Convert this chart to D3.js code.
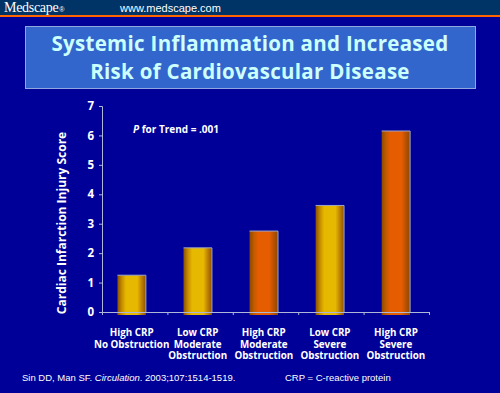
<!DOCTYPE html>
<html>
<head>
<meta charset="utf-8">
<script src="https://cdn.jsdelivr.net/npm/d3@7"></script>
<style>
  body { margin: 0; background: #000099; }
  svg { display: block; }
</style>
</head>
<body>
<svg id="chart"></svg>
<script>
// chart data
const categories = [
    ["High CRP", "No Obstruction"],
    ["Low CRP", "Moderate", "Obstruction"],
    ["High CRP", "Moderate", "Obstruction"],
    ["Low CRP", "Severe", "Obstruction"],
    ["High CRP", "Severe", "Obstruction"]
];
const scores = [1.25, 2.18, 2.75, 3.62, 6.15];
const barColour = ["yellow", "yellow", "orange", "yellow", "orange"];
const yTicks = [0, 1, 2, 3, 4, 5, 6, 7];

const width = 500, height = 393;
const margin = {top: 106, right: 71, bottom: 81, left: 102};

const svg = d3.select("#chart")
    .attr("width", width)
    .attr("height", height);

svg.append("rect").attr("width", width).attr("height", height).attr("fill", "#000099");

// header strip
svg.append("rect").attr("width", width).attr("height", 15).attr("fill", "#003366");
svg.append("rect").attr("y", 15).attr("width", width).attr("height", 2).attr("fill", "#FF6600");
const brand = svg.append("text")
    .attr("x", 4).attr("y", 12)
    .attr("font-family", "Liberation Serif, serif")
    .attr("font-size", 14)
    .attr("letter-spacing", -0.3)
    .attr("fill", "#fff");
brand.append("tspan").text("Medscape");
brand.append("tspan")
    .attr("font-family", "Liberation Sans, Arial, sans-serif")
    .attr("font-size", 7)
    .attr("dx", 1)
    .text("®");
svg.append("text")
    .attr("x", 120).attr("y", 12)
    .attr("font-family", "Liberation Sans, Arial, sans-serif")
    .attr("font-size", 11)
    .attr("fill", "#fff")
    .text("www.medscape.com");

// title box
svg.append("rect")
    .attr("x", 25.5).attr("y", 26.5)
    .attr("width", 450).attr("height", 62)
    .attr("fill", "#3366CC")
    .attr("stroke", "#8FA8E0")
    .attr("stroke-width", 1);
const title = svg.append("text")
    .attr("text-anchor", "middle")
    .attr("font-family", "Open Sans, DejaVu Sans, sans-serif")
    .attr("font-weight", "bold")
    .attr("font-size", 20.5)
    .attr("letter-spacing", 0.3)
    .attr("fill", "#CCFFFF");
title.append("tspan").attr("x", 250).attr("y", 51).text("Systemic Inflammation and Increased");
title.append("tspan").attr("x", 250).attr("y", 79).text("Risk of Cardiovascular Disease");

// gradients for cylinder-ish bars
const defs = svg.append("defs");
const gradColors = {
    yellow: ["#8A5200", "#C58A00", "#E6B800", "#E6B800", "#C08000", "#8A5200"],
    orange: ["#8A4A00", "#C05A00", "#E65C00", "#E65C00", "#B85000", "#8A4A00"]
};
Object.keys(gradColors).forEach(k => {
    const g = defs.append("linearGradient").attr("id", "grad-" + k)
        .attr("x1", "0%").attr("x2", "100%").attr("y1", "0%").attr("y2", "0%");
    const stops = [0, 0.15, 0.3, 0.7, 0.85, 1];
    gradColors[k].forEach((c, i) => g.append("stop").attr("offset", stops[i]).attr("stop-color", c));
});

const chart = svg.append("g")
    .attr("transform", `translate(${margin.left},${margin.top})`);
const innerW = width - margin.left - margin.right;
const innerH = height - margin.top - margin.bottom;

const xScale = d3.scaleBand()
    .domain(d3.range(categories.length))
    .range([0, innerW])
    .paddingInner(0.57)
    .paddingOuter(0.26)
    .align(0.45);
const yScale = d3.scaleLinear()
    .domain([0, 7])
    .range([innerH, 0]);

// bars
chart.selectAll("rect.bar")
    .data(scores)
    .join("rect")
    .attr("class", "bar")
    .attr("x", (d, i) => xScale(i))
    .attr("y", d => yScale(d))
    .attr("width", xScale.bandwidth())
    .attr("height", d => innerH - yScale(d) + 3)
    .attr("fill", (d, i) => `url(#grad-${barColour[i]})`);
chart.selectAll("path.bar-edge")
    .data(scores)
    .join("path")
    .attr("class", "bar-edge")
    .attr("d", (d, i) => {
        const x0 = xScale(i), x1 = xScale(i) + xScale.bandwidth(), y = yScale(d);
        return `M${x0},${y}H${x1}V${innerH}`;
    })
    .attr("fill", "none")
    .attr("stroke", "#A0A8C8")
    .attr("stroke-width", 1);

// axes
const yAxis = d3.axisLeft(yScale).tickValues(yTicks).tickSize(3).tickPadding(5).tickFormat(d3.format("d"));
const yAxisG = chart.append("g").call(yAxis);
yAxisG.select(".domain").attr("stroke", "#B0B8D8");
yAxisG.selectAll(".tick line").attr("stroke", "#B0B8D8");
yAxisG.selectAll(".tick text")
    .attr("fill", "#fff")
    .attr("font-family", "Open Sans, DejaVu Sans, sans-serif")
    .attr("font-weight", "bold")
    .attr("font-size", 11.5);

const xLine = d3.scaleLinear().domain([0, categories.length]).range([0, innerW]);
const xAxis = d3.axisBottom(xLine).ticks(categories.length).tickSize(3).tickFormat("");
const xAxisG = chart.append("g").attr("transform", `translate(0,${innerH})`).call(xAxis);
xAxisG.select(".domain").attr("stroke", "#B0B8D8");
xAxisG.selectAll(".tick line").attr("stroke", "#B0B8D8");

// category labels
const labels = chart.append("g")
    .selectAll("text")
    .data(categories)
    .join("text")
    .attr("text-anchor", "middle")
    .attr("font-family", "Open Sans, DejaVu Sans, sans-serif")
    .attr("font-weight", "bold")
    .attr("font-size", 9.8)
    .attr("fill", "#fff");
labels.each(function(lines, i) {
    const cx = xScale(i) + xScale.bandwidth() / 2;
    lines.forEach((t, j) => {
        d3.select(this).append("tspan")
            .attr("x", cx)
            .attr("y", innerH + 24 + j * 11.5)
            .text(t);
    });
});

// y axis title
svg.append("text")
    .attr("transform", `translate(66,223) rotate(-90)`)
    .attr("text-anchor", "middle")
    .attr("font-family", "Open Sans, DejaVu Sans, sans-serif")
    .attr("font-weight", "bold")
    .attr("font-size", 12)
    .attr("fill", "#fff")
    .text("Cardiac Infarction Injury Score");

// trend annotation
const trend = svg.append("text")
    .attr("x", 133).attr("y", 133)
    .attr("font-family", "Open Sans, DejaVu Sans, sans-serif")
    .attr("font-weight", "bold")
    .attr("font-size", 10)
    .attr("fill", "#fff");
trend.append("tspan").attr("font-style", "italic").text("P");
trend.append("tspan").text(" for Trend = .001");

// footer
const foot = svg.append("text")
    .attr("x", 22).attr("y", 381)
    .attr("font-family", "Liberation Sans, Arial, sans-serif")
    .attr("font-size", 9.5)
    .attr("fill", "#fff");
foot.append("tspan").text("Sin DD, Man SF. ");
foot.append("tspan").attr("font-style", "italic").text("Circulation");
foot.append("tspan").text(". 2003;107:1514-1519.");
svg.append("text")
    .attr("x", 285).attr("y", 381)
    .attr("font-family", "Liberation Sans, Arial, sans-serif")
    .attr("font-size", 9.5)
    .attr("fill", "#fff")
    .text("CRP = C-reactive protein");
</script>
</body>
</html>
